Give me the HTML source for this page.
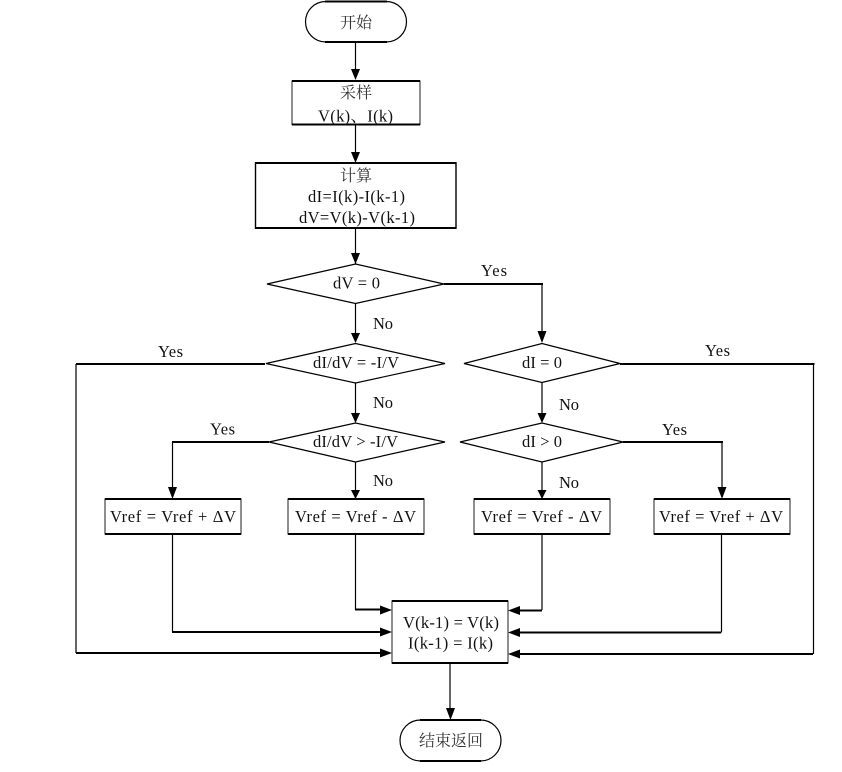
<!DOCTYPE html>
<html><head><meta charset="utf-8">
<style>
html,body{margin:0;padding:0;background:#fff;width:842px;height:772px;overflow:hidden}
svg{display:block}
text{font-family:"Liberation Serif","Noto Serif CJK SC",serif;font-size:16.5px;fill:#111;text-anchor:middle}
.c{font-size:16px;fill:#333}
.l{font-size:16.5px}
</style></head><body>
<svg width="842" height="772" viewBox="0 0 842 772" xmlns="http://www.w3.org/2000/svg">
<g fill="#fff" stroke="#000" stroke-width="1.2">
<rect x="305.5" y="1.5" width="101" height="40.5" rx="20.25" ry="20.25"/>
<rect x="292" y="81" width="128" height="43.5" stroke="#444"/>
<rect x="255.5" y="163" width="200.5" height="65" stroke-width="1.4"/>
<polygon points="267,284 355.5,264 444,284 355.5,303.5"/>
<polygon points="266,363.5 355.5,343.5 445,363.5 355.5,383"/>
<polygon points="269,442 355.5,423 445,442 355.5,462"/>
<polygon points="464,363.5 542,343.5 620,363.5 542,382.5"/>
<polygon points="460,442 542,423 623,442 542,462"/>
<rect x="105" y="499" width="136" height="35" stroke="#444"/>
<rect x="288" y="499" width="136" height="35" stroke="#444"/>
<rect x="474" y="499" width="136" height="35" stroke="#444"/>
<rect x="654" y="499" width="136" height="35" stroke="#444"/>
<rect x="392" y="601" width="116" height="62" stroke="#444"/>
<rect x="400" y="720" width="101" height="41" rx="20.5" ry="20.5"/>
</g>
<g fill="none" stroke="#000" stroke-width="2">
<path d="M325 1.5H387M325 42H387M292 81H420M292 124.5H420M255 163H456.5M255 228H456.5M105 499H241M105 534H241M288 499H424M288 534H424M474 499H610M474 534H610M654 499H790M654 534H790M392 601H508M392 663H508M420 720H481M420 761H481"/>
</g>
<g fill="none" stroke="#000" stroke-width="1.2">
<path d="M355.5 42V70M355.5 125V153M355.5 228V264M355.5 303.5V333M355.5 383V414M355.5 462V490M172.5 442V488M722 442V488M542 284V333M542 382.5V414M542 462V490"/>
<path d="M172.5 534V632M355.5 534V609.5M542 534V610M721.5 534V632.5M450 663V708M76 364V653M813.5 364V654"/>
</g>
<g fill="none" stroke="#000" stroke-width="2">
<path d="M76 364H265M172 442H269M355 609.5H380M172 632H380M76 653H380"/>
<path d="M444 284H543M620 364H814.5M623 442H723M542 610.5H520M721 632.5H520M813 654H520"/>
</g>
<g fill="#000">
<polygon points="355.5,80 351,69 360,69"/>
<polygon points="355.5,163 351,152 360,152"/>
<polygon points="355.5,264 351,253 360,253"/>
<polygon points="355.5,343 351,333 360,333"/>
<polygon points="355.5,423 351,413 360,413"/>
<polygon points="355.5,499 351,490 360,490"/>
<polygon points="172.5,499 168,487 177,487"/>
<polygon points="542,343 537.5,331 546.5,331"/>
<polygon points="542,423 537.5,413 546.5,413"/>
<polygon points="542,499 537.5,490 546.5,490"/>
<polygon points="722,499 717.5,487 726.5,487"/>
<polygon points="392,610 380,605.5 380,614.5"/>
<polygon points="392,632 380,627.5 380,636.5"/>
<polygon points="392,653 380,648.5 380,657.5"/>
<polygon points="508,610.5 520,606 520,615"/>
<polygon points="508,632.5 520,628 520,637"/>
<polygon points="508,654 520,649.5 520,658.5"/>
<polygon points="450.5,720 446,708 455,708"/>
</g>
<text class="c" x="356" y="28">开始</text>
<text class="c" x="356" y="98">采样</text>
<text x="355.5" y="121.5" textLength="75">V(k)、I(k)</text>
<text class="c" x="356" y="181">计算</text>
<text x="356.5" y="202" textLength="97">dI=I(k)-I(k-1)</text>
<text x="357" y="223" textLength="116">dV=V(k)-V(k-1)</text>
<text x="356.5" y="288.5" textLength="47">dV = 0</text>
<text x="356" y="368" textLength="86">dI/dV = -I/V</text>
<text x="355.5" y="447" textLength="85">dI/dV &gt; -I/V</text>
<text x="542" y="368" textLength="40">dI = 0</text>
<text x="542" y="447" textLength="40">dI &gt; 0</text>
<text x="173" y="522" textLength="126">Vref = Vref + ΔV</text>
<text x="355.5" y="522" textLength="121">Vref = Vref - ΔV</text>
<text x="541.5" y="522" textLength="121">Vref = Vref - ΔV</text>
<text x="721" y="522" textLength="124">Vref = Vref + ΔV</text>
<text x="451" y="628" textLength="96">V(k-1) = V(k)</text>
<text x="450.5" y="648.5" textLength="85">I(k-1) = I(k)</text>
<text class="c" x="451" y="746">结束返回</text>
<text class="l" x="170.5" y="357" textLength="25">Yes</text>
<text class="l" x="494" y="276" textLength="26">Yes</text>
<text class="l" x="717.5" y="356" textLength="25">Yes</text>
<text class="l" x="222.5" y="434.5" textLength="25">Yes</text>
<text class="l" x="674.5" y="435" textLength="25">Yes</text>
<text class="l" x="383" y="329" textLength="20">No</text>
<text class="l" x="383" y="408" textLength="20">No</text>
<text class="l" x="383" y="486" textLength="20">No</text>
<text class="l" x="569" y="410" textLength="20">No</text>
<text class="l" x="569" y="488" textLength="20">No</text>
</svg>
</body></html>
